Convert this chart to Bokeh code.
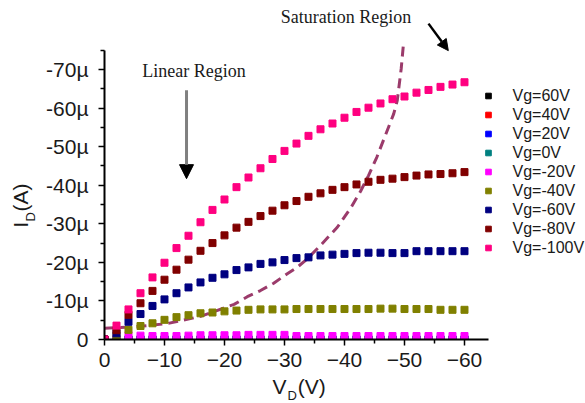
from bokeh.plotting import figure
from bokeh.models import (Range1d, FixedTicker, CustomJSTickFormatter, Legend,
                          LegendItem, Label, Arrow, NormalHead)
from bokeh.embed import file_html
from bokeh.resources import INLINE

# Drain voltage sweep (V)
vd = [0, -2, -4, -6, -8, -10, -12, -14, -16, -18, -20, -22, -24, -26, -28, -30,
      -32, -34, -36, -38, -40, -42, -44, -46, -48, -50, -52, -54, -56, -58, -60]

# Drain current (µA) for each gate voltage
id_vg_p60 = [0.0] * 31
id_vg_p40 = [0.0] * 31
id_vg_p20 = [0.0] * 31
id_vg_0 = [0.0, -0.1, -0.1, -0.1, -0.1, -0.1, -0.1, -0.1, -0.1, -0.1, -0.1, -0.1,
           -0.1, -0.1, -0.1, -0.1, -0.1, -0.1, -0.1, -0.1, -0.1, -0.1, -0.1, -0.1,
           -0.1, -0.1, -0.1, -0.1, -0.1, -0.1, -0.1]
id_vg_m20 = [0.0, -0.4, -1.1, -1.0, -0.9, -0.9, -0.9, -1.0, -1.1, -1.1, -1.1, -1.1,
             -1.2, -1.2, -1.2, -1.2, -0.9, -0.9, -0.9, -0.9, -0.9, -0.9, -0.9, -0.9,
             -0.9, -0.9, -0.9, -0.9, -0.9, -0.9, -0.9]
id_vg_m40 = [0.0, -1.0, -2.5, -3.5, -4.2, -5.1, -5.8, -6.3, -6.8, -7.0, -7.3, -7.5,
             -7.7, -7.8, -7.8, -7.8, -7.9, -7.9, -7.9, -7.9, -7.9, -7.9, -7.9, -8.0,
             -8.0, -7.9, -7.9, -7.9, -7.7, -7.7, -7.7]
id_vg_m60 = [0.0, -1.6, -4.6, -6.6, -8.7, -10.4, -12.0, -13.5, -14.8, -16.0, -16.9,
             -18.0, -18.7, -19.6, -20.0, -20.6, -21.1, -21.3, -21.8, -22.0, -22.2,
             -22.4, -22.5, -22.5, -22.4, -22.4, -22.9, -22.9, -22.9, -22.9, -22.9]
id_vg_m80 = [0.0, -2.4, -6.4, -9.4, -12.6, -15.5, -18.1, -20.7, -23.0, -25.0, -27.0,
             -29.0, -30.5, -32.0, -33.4, -34.8, -35.9, -37.0, -37.9, -38.8, -39.5,
             -40.2, -40.9, -41.4, -41.7, -42.1, -42.5, -42.8, -42.9, -43.1, -43.4]
id_vg_m100 = [0.0, -3.6, -7.8, -12.0, -16.1, -19.9, -23.7, -26.9, -30.4, -33.6, -36.3,
              -39.5, -42.0, -44.4, -46.8, -48.9, -50.8, -52.8, -54.5, -56.0, -57.5,
              -59.0, -60.1, -61.2, -62.3, -63.0, -64.0, -64.7, -65.5, -66.1, -66.7]

series_labels = ["Vg=60V", "Vg=40V", "Vg=20V", "Vg=0V", "Vg=-20V", "Vg=-40V",
                 "Vg=-60V", "Vg=-80V", "Vg=-100V"]
series_values = [id_vg_p60, id_vg_p40, id_vg_p20, id_vg_0, id_vg_m20, id_vg_m40,
                 id_vg_m60, id_vg_m80, id_vg_m100]
series_colors = ["#000000", "#ff0000", "#0000ff", "#008080", "#ff00ff", "#808000",
                 "#000080", "#800000", "#ff0080"]

# Boundary between the linear and saturation regions
sat_vd = [0, -5, -10.4, -16, -21.6, -23.8, -26, -28.2, -30.4, -32.1, -33.8, -36,
          -38.8, -41, -42.7, -44, -45.4, -46.8, -48.2, -48.8, -49.45, -49.8]
sat_id = [-2.9, -3.3, -4.1, -6.0, -9.1, -11.1, -12.7, -14.6, -17.0, -18.7, -20.9,
          -24.4, -29.1, -34.0, -38.5, -42.5, -47.3, -52.9, -58.5, -62.0, -70.2, -76.2]

x_ticks = [0, -10, -20, -30, -40, -50, -60]
x_minor = [-5, -15, -25, -35, -45, -55]
y_ticks = [0, -10, -20, -30, -40, -50, -60, -70]
y_minor = [-5, -15, -25, -35, -45, -55, -65, -75]

# The plot area spans the whole canvas; the axes sit at V=0 / I=0 and are
# limited to their drawn extent with bounds, so titles, notes and the legend
# can live around them.
xr = Range1d(17.333, -80.167)
yr = Range1d(16.593, -87.893)
p = figure(width=585, height=403, output_backend="svg", toolbar_location=None,
           x_range=xr, y_range=yr, min_border=0)
p.outline_line_color = None
p.grid.visible = False
p.background_fill_color = "white"

p.line(sat_vd, sat_id, line_color="#9b3b6b", line_width=3, line_dash="10 6")

renderers = []
for vals, col in zip(series_values, series_colors):
    r = p.scatter(vd, vals, marker="square", size=7, fill_color=col, line_color=col)
    renderers.append(r)

# Keep markers inside the quadrant bounded by the two axes
p.quad(left=[xr.start, xr.start], right=[xr.end, 0], top=[0, yr.end],
       bottom=[yr.start, yr.start], fill_color="white", line_color=None)

tick_font = "Liberation Sans"
for ax in (p.xaxis[0], p.yaxis[0]):
    ax.fixed_location = 0
    ax.axis_line_width = 2
    ax.axis_line_color = "black"
    ax.major_tick_line_width = 1.5
    ax.minor_tick_line_width = 1.5
    ax.major_tick_out = 6
    ax.major_tick_in = 0
    ax.minor_tick_out = 4
    ax.minor_tick_in = 0
    ax.major_label_text_font = tick_font
    ax.major_label_text_font_size = "21px"
    ax.major_label_text_color = "#1a1a1a"

p.xaxis[0].ticker = FixedTicker(ticks=x_ticks, minor_ticks=x_minor)
p.xaxis[0].bounds = (-64, 0)
p.xaxis[0].major_label_standoff = 7
p.yaxis[0].ticker = FixedTicker(ticks=y_ticks, minor_ticks=y_minor)
p.yaxis[0].bounds = (-75, 0)
p.yaxis[0].major_label_standoff = 10
p.yaxis[0].formatter = CustomJSTickFormatter(
    code="return tick == 0 ? '0' : tick.toFixed(0) + '\u00b5';")

# Axis titles with subscripts
def add_label(x, y, text, size, angle=0.0, font=tick_font, align="left"):
    p.add_layout(Label(x=x, y=y, text=text, angle=angle, text_font=font,
                       text_font_size=size, text_color="#1a1a1a",
                       text_align=align, text_baseline="alphabetic"))

add_label(-28.0, 12.2, "V", "21px")
add_label(-30.5, 14.4, "D", "13px")
add_label(-32.2, 12.2, "(V)", "21px")

add_label(14.08, -29.0, "I", "21px", angle=1.5708)
add_label(12.4, -30.6, "D", "13px", angle=1.5708)
add_label(14.08, -33.2, "(A)", "21px", angle=1.5708)

# Region annotations
add_label(-14.9, -69.5, "Linear Region", "18px", font="Liberation Serif", align="center")
add_label(-40.25, -83.7, "Saturation Region", "18px", font="Liberation Serif", align="center")

p.add_layout(Arrow(x_start=-13.67, y_start=-64.6, x_end=-13.67, y_end=-41.7,
                   line_color="#808080", line_width=3,
                   end=NormalHead(size=14, fill_color="black", line_color="black")))
p.add_layout(Arrow(x_start=-54.0, y_start=-81.9, x_end=-57.3, y_end=-74.9,
                   line_color="black", line_width=2.5,
                   end=NormalHead(size=11, fill_color="black", line_color="black")))

legend = Legend(items=[LegendItem(label=lab, renderers=[r])
                       for lab, r in zip(series_labels, renderers)],
                location=(480.5, 146), orientation="vertical")
legend.border_line_color = None
legend.background_fill_alpha = 0
legend.padding = 0
legend.margin = 0
legend.glyph_width = 14
legend.glyph_height = 19
legend.label_height = 19
legend.spacing = 0
legend.label_standoff = 18
legend.label_text_font = tick_font
legend.label_text_font_size = "16px"
legend.label_text_color = "#1a1a1a"
p.add_layout(legend)

open("out.html", "w").write(file_html(p, INLINE))
